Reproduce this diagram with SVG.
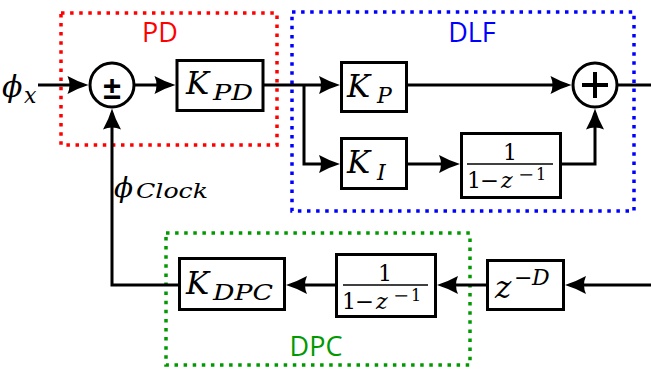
<svg xmlns="http://www.w3.org/2000/svg" width="651" height="370" viewBox="0 0 651 370">
<style>
.blk{fill:#fff;stroke:#000;stroke-width:3}
.sum{fill:#fff;stroke:#000;stroke-width:3}
.ln{fill:none;stroke:#000;stroke-width:3;stroke-linejoin:miter}
.arr{marker-end:url(#ah)}
.m{font-family:'DejaVu Serif',serif;font-style:italic;fill:#000}
.u{font-family:'DejaVu Serif',serif;font-style:normal;fill:#000}
.grp{fill:none;stroke-width:3.5;stroke-dasharray:3.5 5.6}
.gl{font-family:'Open Sans','DejaVu Sans',sans-serif;font-size:27px;text-anchor:middle}
.fl{stroke:#000;stroke-width:1.4}
</style>
<defs>
<marker id="ah" viewBox="-22 -10 24 20" refX="-5" refY="0" markerWidth="24" markerHeight="20" markerUnits="userSpaceOnUse" orient="auto">
<path d="M0,0 Q-10,-3 -21,-9 Q-17,0 -21,9 Q-10,3 0,0 Z" fill="#000"/>
</marker>
</defs>
<rect width="651" height="370" fill="#fff"/>

<g id="group-PD">
<rect class="grp" x="61" y="13" width="216" height="132" stroke="#ff0000"/>
<text class="gl" x="160" y="42" fill="#ff0000">PD</text>
</g>
<g id="group-DLF">
<rect class="grp" x="292" y="12" width="342" height="199" stroke="#0000ff"/>
<text class="gl" x="472" y="42" fill="#0000ff">DLF</text>
</g>
<g id="group-DPC">
<rect class="grp" x="166" y="233" width="304" height="132" stroke="#009900"/>
<text class="gl" x="316" y="356" fill="#009900">DPC</text>
</g>

<g id="connectors">
<line class="ln arr" x1="38" y1="85" x2="83.5" y2="85"/>
<line class="ln arr" x1="134" y1="85" x2="170.5" y2="85"/>
<line class="ln arr" x1="264" y1="85" x2="335" y2="85"/>
<polyline class="ln arr" points="304,85 304,164 335,164"/>
<line class="ln arr" x1="408" y1="164" x2="455" y2="164"/>
<polyline class="ln arr" points="562,164 595,164 595,113.5"/>
<line class="ln arr" x1="408" y1="85" x2="566.5" y2="85"/>
<line class="ln" x1="617" y1="85" x2="651" y2="85"/>
<line class="ln arr" x1="651" y1="285" x2="570" y2="285"/>
<line class="ln arr" x1="486" y1="285" x2="442" y2="285"/>
<line class="ln arr" x1="335" y1="285" x2="291" y2="285"/>
<polyline class="ln arr" points="178,285 112,285 112,113.5"/>
</g>

<g id="label-phi-x">
<text class="m" x="2" y="97" font-size="30">ϕ</text>
<text class="m" x="24" y="103" font-size="22">x</text>
</g>
<g id="label-phi-clock">
<text class="m" x="114" y="197" font-size="28">ϕ</text>
<text class="m" x="136" y="198" font-size="20" textLength="72" lengthAdjust="spacingAndGlyphs">Clock</text>
</g>

<g id="sum1">
<circle class="sum" cx="112" cy="85" r="22"/>
<text x="112" y="99" font-family="'Liberation Sans',sans-serif" font-weight="bold" font-size="32" text-anchor="middle">±</text>
</g>

<g id="K_PD">
<rect class="blk" x="177" y="60.5" width="86" height="50"/>
<text class="m" x="186" y="94" font-size="31">K</text>
<text class="m" x="213" y="100" font-size="22" textLength="40" lengthAdjust="spacingAndGlyphs">PD</text>
</g>

<g id="K_P">
<rect class="blk" x="341.5" y="62.5" width="65" height="49"/>
<text class="m" x="347" y="97" font-size="31">K</text>
<text class="m" x="377" y="103" font-size="22">P</text>
</g>

<g id="K_I">
<rect class="blk" x="341.5" y="138.5" width="65" height="50"/>
<text class="m" x="347" y="173" font-size="31">K</text>
<text class="m" x="377" y="180" font-size="22">I</text>
</g>

<g id="integrator-DLF">
<rect class="blk" x="461.5" y="133.5" width="99" height="64"/>
<text class="u" x="510" y="160" font-size="22" text-anchor="middle">1</text>
<line class="fl" x1="467" y1="164" x2="553" y2="164"/>
<text class="u" x="467" y="188" font-size="22">1</text>
<text class="u" x="480" y="188" font-size="22" textLength="19" lengthAdjust="spacingAndGlyphs">−</text>
<text class="m" x="501" y="188" font-size="22">z</text>
<text class="u" x="518" y="180" font-size="16" textLength="16" lengthAdjust="spacingAndGlyphs">−</text>
<text class="u" x="536" y="180" font-size="16">1</text>
</g>

<g id="sum2">
<circle class="sum" cx="595" cy="85" r="22"/>
<line x1="582" y1="85" x2="608" y2="85" stroke="#000" stroke-width="4"/>
<line x1="595" y1="72" x2="595" y2="98" stroke="#000" stroke-width="4"/>
</g>

<g id="z-D">
<rect class="blk" x="487.5" y="260.5" width="76" height="49"/>
<text class="m" x="495" y="298" font-size="31">z</text>
<text class="u" x="514" y="285" font-size="22">−</text>
<text class="m" x="532" y="285" font-size="22">D</text>
</g>

<g id="integrator-DPC">
<rect class="blk" x="336.5" y="254.5" width="99" height="62"/>
<text class="u" x="385" y="281" font-size="22" text-anchor="middle">1</text>
<line class="fl" x1="343" y1="285" x2="428" y2="285"/>
<text class="u" x="342" y="309" font-size="22">1</text>
<text class="u" x="355" y="309" font-size="22" textLength="19" lengthAdjust="spacingAndGlyphs">−</text>
<text class="m" x="376" y="309" font-size="22">z</text>
<text class="u" x="393" y="301" font-size="16" textLength="16" lengthAdjust="spacingAndGlyphs">−</text>
<text class="u" x="411" y="301" font-size="16">1</text>
</g>

<g id="K_DPC">
<rect class="blk" x="179.5" y="258.5" width="105" height="51"/>
<text class="m" x="186" y="294" font-size="31">K</text>
<text class="m" x="213" y="300" font-size="22" textLength="60" lengthAdjust="spacingAndGlyphs">DPC</text>
</g>
</svg>
